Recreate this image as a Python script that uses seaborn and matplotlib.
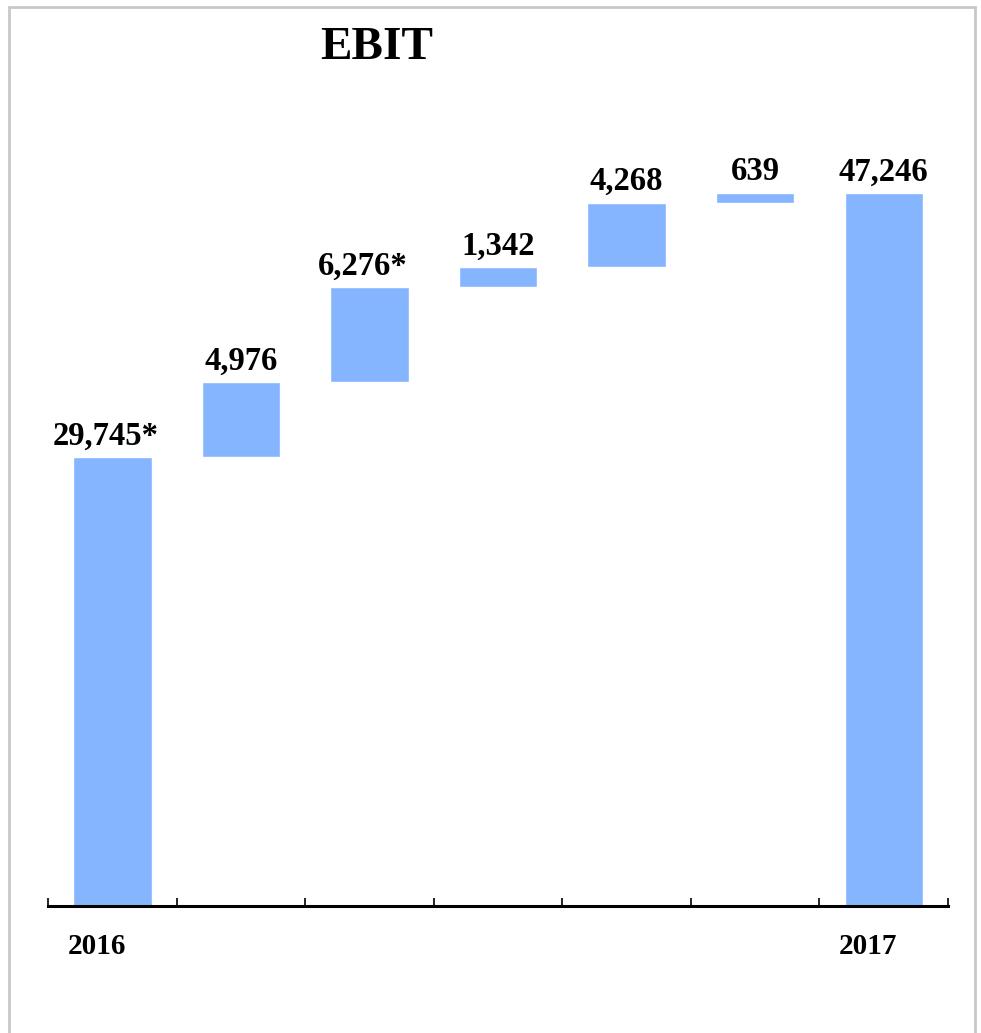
import matplotlib
matplotlib.use("Agg")
import matplotlib.pyplot as plt
from matplotlib.patches import Rectangle
import seaborn as sns
import numpy as np

steps = ["2016", "s1", "s2", "s3", "s4", "s5", "2017"]
changes = [29745, 4976, 6276, 1342, 4268, 639, 47246]
value_labels = ["29,745*", "4,976", "6,276*", "1,342", "4,268", "639", "47,246"]
year_labels = {0: "2016", 6: "2017"}

BAR_COLOR = "#85B5FF"


def set_style():
	sns.set_theme(style="white")
	plt.rcParams["font.family"] = ["Liberation Serif", "DejaVu Serif"]
	plt.rcParams["font.weight"] = "bold"
	plt.rcParams["text.color"] = "black"


def waterfall_bottoms(vals):
	# first and last bars are totals, the rest float on the running sum
	bottoms = np.zeros(len(vals))
	running = 0
	for i, v in enumerate(vals):
		if i == 0 or i == len(vals) - 1:
			bottoms[i] = 0
		else:
			bottoms[i] = running
		running = v if i == 0 else running + v
	return bottoms


if __name__ == "__main__":
	set_style()

	W, H = 981, 1033
	fig = plt.figure(figsize=(W / 100, H / 100), dpi=100)
	ax = fig.add_axes([48 / W, (H - 906) / H, 900 / W, 806 / H])

	bottoms = waterfall_bottoms(changes)
	x = np.arange(len(steps))
	sns.barplot(x=x, y=changes, bottom=bottoms, color=BAR_COLOR, width=0.61,
		saturation=1, ax=ax, native_scale=True)

	ymax = 806 / 713 * changes[-1]
	ax.set_xlim(-0.5, len(steps) - 0.5)
	ax.set_ylim(0, ymax)

	for i, (b, v, lab) in enumerate(zip(bottoms, changes, value_labels)):
		dx = -0.05 if lab.endswith("*") else 0
		ax.annotate(lab, (i + dx, b + v), xytext=(0, 9), textcoords="offset points",
			ha="center", va="baseline", fontsize=23.5, fontweight="bold",
			color="black")

	for i, lab in year_labels.items():
		ax.text(i - 0.12, -0.0596, lab, transform=ax.get_xaxis_transform(),
			ha="center", va="baseline", fontsize=21, fontweight="bold",
			color="black")

	for side in ["top", "right", "left"]:
		ax.spines[side].set_visible(False)
	ax.spines["bottom"].set_linewidth(2.2)
	ax.spines["bottom"].set_color("black")
	ax.set_yticks([])
	ax.set_xticks(np.arange(-0.5, len(steps), 1.0))
	ax.set_xticklabels([])
	ax.tick_params(axis="x", direction="in", length=6, width=1.2, color="black",
		bottom=True)
	ax.set_xlabel("")
	ax.set_ylabel("")

	fig.text(377 / W, 1 - 48 / H, "EBIT", ha="center", va="center",
		fontsize=34, fontweight="bold", color="black")

	fig.patches.append(Rectangle((9 / W, -0.05), 966 / W, 1.05 - 7 / H,
		transform=fig.transFigure, fill=False, edgecolor="#C8C8C8",
		linewidth=2, clip_on=False))

	plt.savefig("out.png", dpi=100)
